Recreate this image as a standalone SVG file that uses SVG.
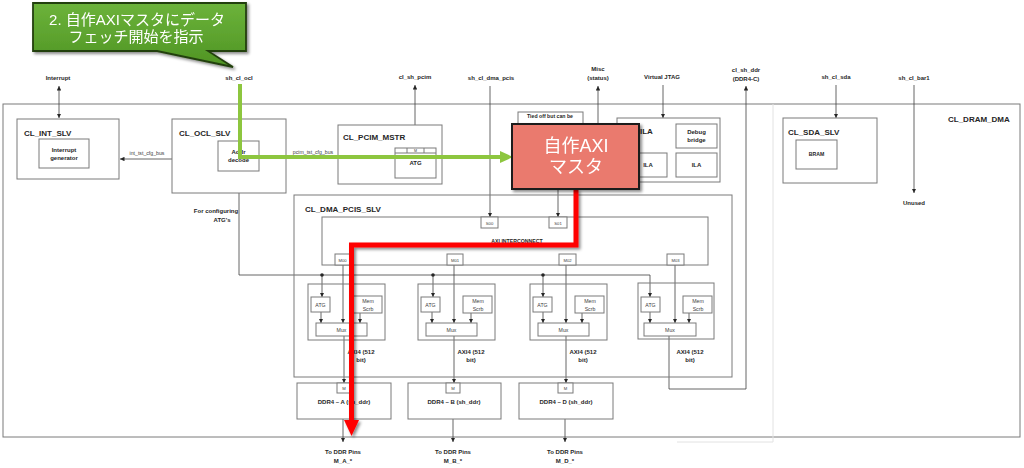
<svg xmlns="http://www.w3.org/2000/svg" width="1024" height="468" viewBox="0 0 1024 468">
<defs>
<style>
.bx{fill:#fff;stroke:#7a7a7a;stroke-width:1}
.nb{fill:none;stroke:#7a7a7a;stroke-width:1}
.ln{fill:none;stroke:#404040;stroke-width:0.8}
.fa{fill:none;stroke:#e2e2e2;stroke-width:1}
.t{font-family:"Liberation Sans",Arial,sans-serif;font-weight:bold;fill:#262626}
.r{font-family:"Liberation Sans",Arial,sans-serif;fill:#404040}
.h{font-size:8px}
.s{font-size:6px}
.xs{font-size:5.2px}
.m{text-anchor:middle}
.jp{font-family:"Liberation Sans","Noto Sans CJK JP",sans-serif;fill:#fff}
</style>
<marker id="ar" viewBox="0 0 6 6" refX="6" refY="3" markerWidth="4.5" markerHeight="4.5" markerUnits="userSpaceOnUse" orient="auto-start-reverse">
<path d="M0,0 L6,3 L0,6 Z" fill="#262626"/>
</marker>
<linearGradient id="gg" x1="0" y1="0" x2="0" y2="1">
<stop offset="0" stop-color="#6cb33a"/>
<stop offset="1" stop-color="#4f9424"/>
</linearGradient>
<filter id="sh" x="-20%" y="-20%" width="140%" height="140%">
<feDropShadow dx="2" dy="2" stdDeviation="1.5" flood-color="#000" flood-opacity="0.45"/>
</filter>
</defs>

<g id="cl_dram_dma">
<rect class="nb" x="3" y="104" width="1017" height="333"/>
<path class="fa" d="M773,104 V442 H677"/>
<text class="t h" x="948" y="122">CL_DRAM_DMA</text>
</g>

<g id="connectors">
<line class="ln" x1="59" y1="86" x2="59" y2="118" marker-start="url(#ar)" marker-end="url(#ar)"/>
<line class="ln" x1="172" y1="159" x2="120" y2="159" marker-end="url(#ar)"/>
<path class="ln" d="M239,193 V275 H650 V297" marker-end="url(#ar)"/>
<line class="ln" x1="322" y1="275" x2="322" y2="297" marker-end="url(#ar)"/>
<line class="ln" x1="433" y1="275" x2="433" y2="297" marker-end="url(#ar)"/>
<line class="ln" x1="543" y1="275" x2="543" y2="297" marker-end="url(#ar)"/>
<circle cx="322" cy="275" r="1.8" fill="#262626"/>
<circle cx="433" cy="275" r="1.8" fill="#262626"/>
<circle cx="543" cy="275" r="1.8" fill="#262626"/>
<line class="ln" x1="415" y1="148" x2="415" y2="85" marker-end="url(#ar)"/>
<line class="ln" x1="490" y1="86" x2="490" y2="217" marker-end="url(#ar)"/>
<line class="ln" x1="558" y1="189" x2="558" y2="217" marker-end="url(#ar)"/>
<line class="ln" x1="598" y1="124" x2="598" y2="86" marker-end="url(#ar)"/>
<line class="ln" x1="663" y1="85" x2="663" y2="118" marker-end="url(#ar)"/>
<line class="ln" x1="836" y1="85" x2="836" y2="118" marker-end="url(#ar)"/>
<line class="ln" x1="914" y1="85" x2="914" y2="193" marker-end="url(#ar)"/>
<line class="ln" x1="343" y1="265" x2="343" y2="323" marker-end="url(#ar)"/>
<line class="ln" x1="454" y1="265" x2="454" y2="323" marker-end="url(#ar)"/>
<line class="ln" x1="566" y1="265" x2="566" y2="323" marker-end="url(#ar)"/>
<line class="ln" x1="675" y1="265" x2="675" y2="323" marker-end="url(#ar)"/>
<line class="ln" x1="321" y1="312" x2="321" y2="323" marker-end="url(#ar)"/>
<line class="ln" x1="360" y1="313" x2="360" y2="323" marker-end="url(#ar)"/>
<line class="ln" x1="432" y1="312" x2="432" y2="323" marker-end="url(#ar)"/>
<line class="ln" x1="471" y1="313" x2="471" y2="323" marker-end="url(#ar)"/>
<line class="ln" x1="543" y1="312" x2="543" y2="323" marker-end="url(#ar)"/>
<line class="ln" x1="582" y1="313" x2="582" y2="323" marker-end="url(#ar)"/>
<line class="ln" x1="650" y1="312" x2="650" y2="323" marker-end="url(#ar)"/>
<line class="ln" x1="689" y1="313" x2="689" y2="323" marker-end="url(#ar)"/>
<line class="ln" x1="344" y1="336" x2="344" y2="383" marker-end="url(#ar)"/>
<line class="ln" x1="454" y1="336" x2="454" y2="383" marker-end="url(#ar)"/>
<line class="ln" x1="566" y1="336" x2="566" y2="383" marker-end="url(#ar)"/>
<path class="ln" d="M669,336 V389 H746 V86" marker-end="url(#ar)"/>
<line class="ln" x1="343" y1="419" x2="343" y2="442" marker-end="url(#ar)"/>
<line class="ln" x1="453" y1="419" x2="453" y2="442" marker-end="url(#ar)"/>
<line class="ln" x1="565" y1="419" x2="565" y2="442" marker-end="url(#ar)"/>
</g>

<g id="top_labels">
<text class="t s m" x="58" y="80">Interrupt</text>
<text class="t s m" x="239" y="80">sh_cl_ocl</text>
<text class="t s m" x="415" y="79">cl_sh_pcim</text>
<text class="t s m" x="491" y="80">sh_cl_dma_pcis</text>
<text class="t s m" x="598" y="71">Misc</text>
<text class="t s m" x="598" y="80">(status)</text>
<text class="t s m" x="662" y="79">Virtual JTAG</text>
<text class="t s m" x="746" y="72">cl_sh_ddr</text>
<text class="t s m" x="746" y="81">(DDR4-C)</text>
<text class="t s m" x="836" y="79">sh_cl_sda</text>
<text class="t s m" x="914" y="80">sh_cl_bar1</text>
<text class="t s m" x="914" y="205">Unused</text>
</g>

<g id="cl_int_slv">
<rect class="bx" x="17" y="119" width="102" height="60"/>
<text class="t h" x="24" y="136">CL_INT_SLV</text>
<rect class="bx" x="39" y="139" width="50" height="29"/>
<text class="t s m" x="64" y="152">Interrupt</text>
<text class="t s m" x="64" y="160">generator</text>
<text class="r xs m" x="147" y="155">int_tst_cfg_bus</text>
</g>

<g id="cl_ocl_slv">
<rect class="bx" x="172" y="119" width="114" height="74"/>
<text class="t h" x="179" y="136">CL_OCL_SLV</text>
<rect class="bx" x="218" y="141" width="41" height="30"/>
<text class="t s m" x="238.5" y="154">Addr</text>
<text class="t s m" x="238.5" y="162">decode</text>
<text class="r xs m" x="313" y="154">pcim_tst_cfg_bus</text>
<text class="t s m" x="216" y="213">For configuring</text>
<text class="t s m" x="222" y="222">ATG's</text>
</g>

<g id="cl_pcim_mstr">
<rect class="bx" x="338" y="125" width="104" height="59"/>
<text class="t h" x="343" y="140">CL_PCIM_MSTR</text>
<rect class="bx" x="395" y="148" width="41" height="30"/>
<path class="nb" d="M395,153 H436 M407,148 V153 M424,148 V153"/>
<text class="r m" x="415.5" y="152.2" font-size="3.6px">M</text>
<text class="t s m" x="415.5" y="165">ATG</text>
</g>

<g id="tied_off">
<rect class="bx" x="518" y="112" width="65" height="20"/>
<text class="t xs m" x="550" y="118">Tied off but can be</text>
</g>

<g id="ila">
<rect class="bx" x="617" y="118" width="103" height="64"/>
<text class="t h" x="640" y="134">ILA</text>
<rect class="bx" x="676" y="124" width="41" height="24"/>
<text class="t s m" x="696.5" y="134">Debug</text>
<text class="t s m" x="696.5" y="142">bridge</text>
<rect class="bx" x="628" y="153" width="39" height="24"/>
<text class="t s m" x="648" y="167">ILA</text>
<rect class="bx" x="676" y="153" width="41" height="24"/>
<text class="t s m" x="696.5" y="167">ILA</text>
</g>

<g id="cl_sda_slv">
<rect class="bx" x="783" y="118" width="94" height="65"/>
<text class="t h" x="788" y="135">CL_SDA_SLV</text>
<rect class="bx" x="796" y="140" width="41" height="29"/>
<text class="t xs m" x="816.5" y="156">BRAM</text>
</g>

<g id="cl_dma_pcis_slv">
<rect class="nb" x="294" y="195" width="438" height="182"/>
<text class="t h" x="305" y="212">CL_DMA_PCIS_SLV</text>
</g>

<g id="axi_interconnect">
<rect class="bx" x="322" y="217" width="386" height="48"/>
<text class="t xs m" x="517" y="242.5">AXI INTERCONNECT</text>
<rect class="bx" x="481" y="217" width="17" height="11"/>
<text class="r m" x="489.5" y="224.5" font-size="4.2px">S00</text>
<rect class="bx" x="549" y="217" width="18" height="11"/>
<text class="r m" x="558" y="224.5" font-size="4.2px">S01</text>
<rect class="bx" x="335" y="254" width="15" height="11"/>
<text class="r m" x="342.5" y="261.5" font-size="4.2px">M00</text>
<rect class="bx" x="447" y="254" width="16" height="11"/>
<text class="r m" x="455" y="261.5" font-size="4.2px">M01</text>
<rect class="bx" x="559" y="254" width="17" height="11"/>
<text class="r m" x="567.5" y="261.5" font-size="4.2px">M02</text>
<rect class="bx" x="667" y="254" width="17" height="11"/>
<text class="r m" x="675.5" y="261.5" font-size="4.2px">M03</text>
</g>

<g id="block_m00">
<rect class="nb" x="308" y="284" width="77" height="56"/>
<rect class="bx" x="311" y="297" width="19" height="15"/>
<text class="r xs m" x="320.5" y="306.5">ATG</text>
<rect class="bx" x="353" y="296" width="29" height="17"/>
<text class="r xs m" x="368" y="302.5">Mem</text>
<text class="r xs m" x="368" y="310.5">Scrb</text>
<rect class="bx" x="316" y="323" width="51" height="13"/>
<text class="r xs m" x="341.5" y="331.5">Mux</text>
<text class="t s m" x="361" y="354">AXI4 (512</text>
<text class="t s m" x="361" y="362">bit)</text>
</g>
<g id="block_m01">
<rect class="nb" x="418" y="284" width="77" height="56"/>
<rect class="bx" x="421" y="297" width="19" height="15"/>
<text class="r xs m" x="430.5" y="306.5">ATG</text>
<rect class="bx" x="463" y="296" width="29" height="17"/>
<text class="r xs m" x="478" y="302.5">Mem</text>
<text class="r xs m" x="478" y="310.5">Scrb</text>
<rect class="bx" x="426" y="323" width="51" height="13"/>
<text class="r xs m" x="451.5" y="331.5">Mux</text>
<text class="t s m" x="471" y="354">AXI4 (512</text>
<text class="t s m" x="471" y="362">bit)</text>
</g>
<g id="block_m02">
<rect class="nb" x="530" y="284" width="77" height="56"/>
<rect class="bx" x="533" y="297" width="19" height="15"/>
<text class="r xs m" x="542.5" y="306.5">ATG</text>
<rect class="bx" x="575" y="296" width="29" height="17"/>
<text class="r xs m" x="590" y="302.5">Mem</text>
<text class="r xs m" x="590" y="310.5">Scrb</text>
<rect class="bx" x="538" y="323" width="51" height="13"/>
<text class="r xs m" x="563.5" y="331.5">Mux</text>
<text class="t s m" x="583" y="354">AXI4 (512</text>
<text class="t s m" x="583" y="362">bit)</text>
</g>
<g id="block_m03">
<rect class="nb" x="638" y="283" width="76" height="56"/>
<rect class="bx" x="641" y="297" width="19" height="15"/>
<text class="r xs m" x="650.5" y="306.5">ATG</text>
<rect class="bx" x="683" y="296" width="29" height="17"/>
<text class="r xs m" x="698" y="302.5">Mem</text>
<text class="r xs m" x="698" y="310.5">Scrb</text>
<rect class="bx" x="644" y="323" width="52" height="13"/>
<text class="r xs m" x="670" y="331.5">Mux</text>
<text class="t s m" x="690" y="354">AXI4 (512</text>
<text class="t s m" x="690" y="362">bit)</text>
</g>

<g id="ddr4_a">
<rect class="bx" x="297" y="383" width="94" height="36"/>
<rect class="bx" x="337" y="383" width="14" height="10"/>
<text class="r m" x="344" y="390" font-size="4.2px">M</text>
<text class="t s m" x="344" y="404">DDR4 – A (sh_ddr)</text>
<text class="t s m" x="343" y="454">To DDR Pins</text>
<text class="t s m" x="343" y="463">M_A_*</text>
</g>
<g id="ddr4_b">
<rect class="bx" x="408" y="383" width="93" height="36"/>
<rect class="bx" x="446" y="383" width="14" height="10"/>
<text class="r m" x="453" y="390" font-size="4.2px">M</text>
<text class="t s m" x="454" y="404">DDR4 – B (sh_ddr)</text>
<text class="t s m" x="453" y="454">To DDR Pins</text>
<text class="t s m" x="453" y="463">M_B_*</text>
</g>
<g id="ddr4_d">
<rect class="bx" x="519" y="383" width="94" height="36"/>
<rect class="bx" x="558" y="383" width="15" height="10"/>
<text class="r m" x="565.5" y="390" font-size="4.2px">M</text>
<text class="t s m" x="566" y="404">DDR4 – D (sh_ddr)</text>
<text class="t s m" x="565" y="454">To DDR Pins</text>
<text class="t s m" x="565" y="463">M_D_*</text>
</g>

<g id="green_path">
<path d="M240,84 V157 H501" fill="none" stroke="#8dc63f" stroke-width="4"/>
<path d="M500,151 L513,157 L500,163 Z" fill="#8dc63f"/>
</g>

<g id="red_path" filter="url(#sh)">
<path d="M576,189 V245 H351.5 V421" fill="none" stroke="#ff0000" stroke-width="5"/>
<path d="M344,420 L359,420 L351.5,436 Z" fill="#ff0000"/>
</g>

<g id="axi_master" filter="url(#sh)">
<rect x="512" y="124" width="127" height="65" fill="#ea7a6e" stroke="#1e1e1e" stroke-width="2"/>
<text class="jp m" font-size="18px"><tspan x="576" y="152">自作AXI</tspan><tspan x="576" y="173">マスタ</tspan></text>
</g>

<g id="callout" filter="url(#sh)">
<path d="M33,3 H246 V51 H208 L233,67 L157,51 H33 Z" fill="url(#gg)" stroke="#24400f" stroke-width="1.8" stroke-linejoin="miter"/>
<text class="jp m" font-size="15px"><tspan x="137" y="25">2. 自作AXIマスタにデータ</tspan><tspan x="136" y="42">フェッチ開始を指示</tspan></text>
</g>
</svg>
